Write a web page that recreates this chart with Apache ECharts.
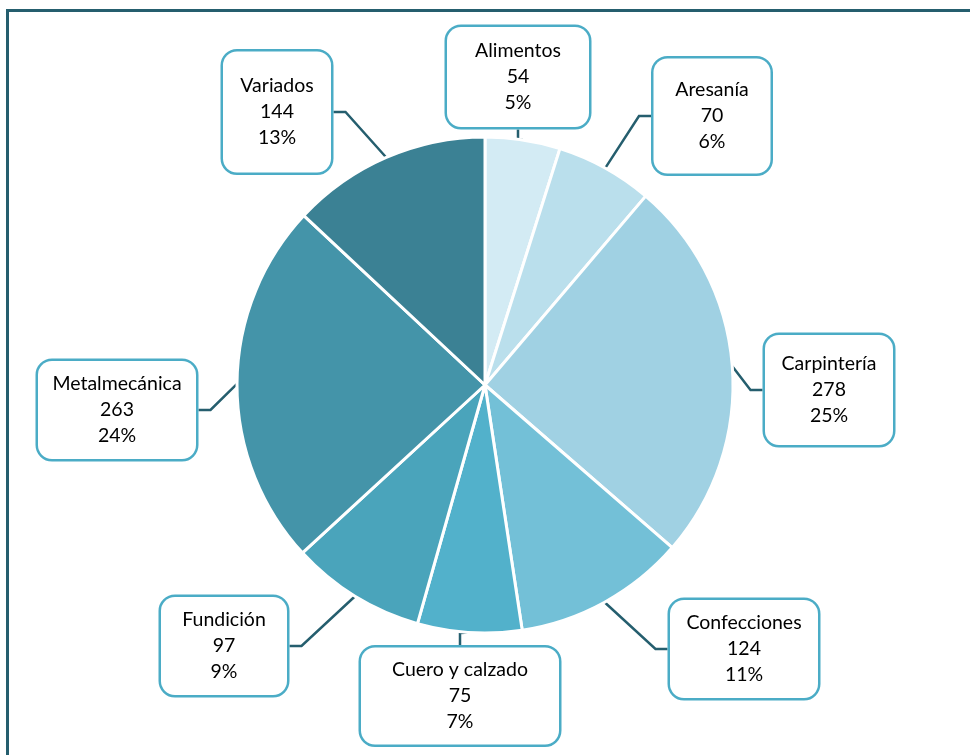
<!DOCTYPE html>
<html>
<head>
<meta charset="utf-8">
<script src="https://cdn.jsdelivr.net/npm/echarts@6/dist/echarts.min.js"></script>
<style>
  html, body { margin: 0; padding: 0; background: #fff; }
  #chart { width: 970px; height: 755px; }
</style>
</head>
<body>
<div id="chart"></div>
<script>
// datos del gráfico
var categorias = ['Alimentos', 'Aresanía', 'Carpintería', 'Confecciones', 'Cuero y calzado', 'Fundición', 'Metalmecánica', 'Variados'];
var cantidades = [54, 70, 278, 124, 75, 97, 263, 144];

var colores = ['#d3ebf4', '#badfec', '#a0d1e3', '#73c0d7', '#52b1cb', '#4aa4bb', '#4494a9', '#3b8194'];

// cajas de etiqueta: centro x, centro y, ancho, alto
var cajas = [
  [518, 77, 145, 100],
  [712, 116, 120, 115],
  [829, 390, 131, 110],
  [744, 649, 151, 98],
  [460, 696, 201, 97],
  [224, 646, 129, 98],
  [117, 410, 161, 98],
  [277, 112, 111, 121]
];
var lineH = 26;

var datos = categorias.map(function (c, i) {
  var b = cajas[i];
  var pv = (b[3] - 3 * lineH) / 2;
  return {
    name: c,
    value: cantidades[i],
    label: { width: b[2] - 3, padding: [pv + 3, 0, pv - 3, 0] }
  };
});

var chart = echarts.init(document.getElementById('chart'));
chart.setOption({
  animation: false,
  color: colores,
  graphic: [{
    type: 'rect',
    shape: { x: 7.5, y: 10.5, width: 1100, height: 900 },
    style: { fill: 'none', stroke: '#255e6e', lineWidth: 3 },
    silent: true
  }],
  series: [{
    type: 'pie',
    center: [485, 385],
    radius: 248,
    startAngle: 90,
    clockwise: true,
    percentPrecision: 0,
    data: datos,
    itemStyle: { borderColor: '#fff', borderWidth: 3 },
    label: {
      show: true,
      formatter: '{b}\n{c}\n{d}%',
      fontFamily: 'Lato',
      fontSize: 19.5,
      lineHeight: lineH,
      color: '#000',
      align: 'center',
      backgroundColor: '#fff',
      borderColor: '#4bacc6',
      borderWidth: 2.5,
      borderRadius: 14
    },
    labelLine: {
      show: true,
      length: 15,
      length2: 12,
      lineStyle: { color: '#255e6e', width: 2.5 }
    },
    labelLayout: function (p) {
      var b = cajas[p.dataIndex];
      return { x: b[0], y: b[1], align: 'center', verticalAlign: 'middle' };
    },
    emphasis: { disabled: true }
  }]
});
</script>
</body>
</html>
